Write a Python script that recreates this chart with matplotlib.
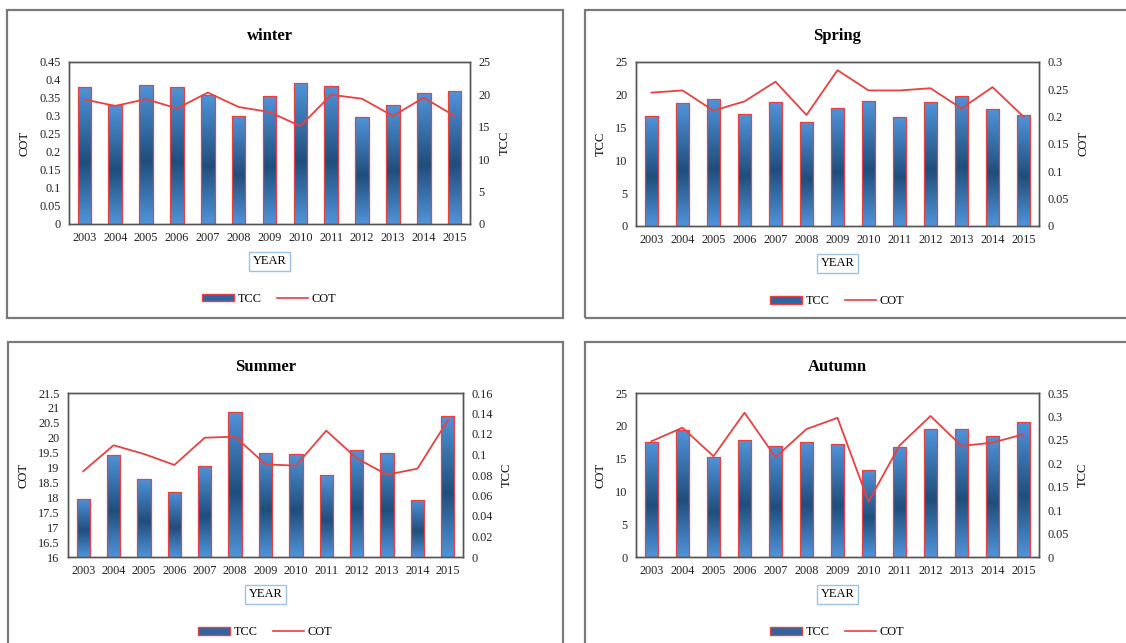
import numpy as np
import matplotlib
matplotlib.use('Agg')
import matplotlib.pyplot as plt
from matplotlib.colors import LinearSegmentedColormap
from matplotlib.patches import Rectangle, Patch
from matplotlib.lines import Line2D
from matplotlib.ticker import FuncFormatter, MultipleLocator

plt.rcParams['font.family'] = ['Liberation Serif', 'DejaVu Serif']

years = ['2003', '2004', '2005', '2006', '2007', '2008', '2009',
         '2010', '2011', '2012', '2013', '2014', '2015']

# winter: bars TCC (right axis), line COT (left axis)
winter_tcc = [21.15, 18.35, 21.5, 21.15, 19.9, 16.7, 19.7, 21.7, 21.35, 16.5, 18.3, 20.2, 20.5]
winter_cot = [0.346, 0.328, 0.347, 0.321, 0.365, 0.325, 0.311, 0.272, 0.359, 0.348, 0.300, 0.351, 0.300]

# spring: bars TCC (left axis), line COT (right axis)
spring_tcc = [16.75, 18.7, 19.35, 17.05, 18.85, 15.9, 18.0, 19.05, 16.55, 18.85, 19.85, 17.9, 16.9]
spring_cot = [0.244, 0.248, 0.211, 0.228, 0.264, 0.203, 0.285, 0.248, 0.248, 0.252, 0.215, 0.254, 0.200]

# summer: bars (left axis, labelled COT), line (right axis, labelled TCC)
summer_bar = [17.96, 19.43, 18.63, 18.19, 19.06, 20.85, 19.5, 19.47, 18.74, 19.6, 19.5, 17.92, 20.73]
summer_line = [0.0836, 0.109, 0.1005, 0.0898, 0.1164, 0.1174, 0.0904, 0.0891, 0.1233, 0.0963, 0.0803, 0.0862, 0.1333]

# autumn: bars (left axis, labelled COT), line (right axis, labelled TCC)
autumn_bar = [17.47, 19.31, 15.2, 17.83, 16.85, 17.47, 17.2, 13.3, 16.7, 19.47, 19.47, 18.4, 20.65]
autumn_line = [0.247, 0.276, 0.215, 0.308, 0.213, 0.273, 0.297, 0.118, 0.238, 0.301, 0.237, 0.244, 0.262]

red = '#e8413f'
light = '#4f94da'
dark = '#204e7c'
cmap = LinearSegmentedColormap.from_list('bar', [(0, light), (0.45, dark), (1, light)])
fmt = FuncFormatter(lambda v, p: f'{v:.10g}')

fig = plt.figure(figsize=(11.26, 6.43), dpi=100)

W, H = 1126, 643


def fbox(x0, y0, x1, y1):
    fig.patches.append(Rectangle((x0 / W, 1 - y1 / H), (x1 - x0) / W, (y1 - y0) / H,
                                 transform=fig.transFigure, fill=False,
                                 ec='#7a7a7a', lw=1.6))


fbox(7, 10, 563, 318)
fbox(585, 10, 1135, 318)
fbox(8, 342, 563, 655)
fbox(585, 342, 1135, 655)


def panel(rect, title, bars_v, line_v, bar_lim, bar_step, line_lim, line_step,
          left_label, right_label, bars_left):
    x0, y0, x1, y1 = rect
    ax = fig.add_axes([x0 / W, 1 - y1 / H, (x1 - x0) / W, (y1 - y0) / H])
    ax2 = ax.twinx()
    x = np.arange(len(years))
    bars = ax.bar(x, bars_v, width=0.44, color='none', edgecolor=red, lw=0.9, zorder=3)
    grad = np.linspace(0, 1, 256).reshape(-1, 1)
    for b in bars:
        bot = max(b.get_y(), bar_lim[0])
        top = b.get_y() + b.get_height()
        im = ax.imshow(grad, extent=[b.get_x(), b.get_x() + b.get_width(), bot, top],
                       origin='lower', aspect='auto', cmap=cmap, zorder=2)
        im.set_clip_path(b)
    ax2.plot(x, line_v, color=red, lw=1.3, zorder=4)
    ax.set_xlim(-0.5, len(years) - 0.5)
    ax.set_ylim(*bar_lim)
    ax2.set_ylim(*line_lim)
    ax.yaxis.set_major_locator(MultipleLocator(bar_step))
    ax2.yaxis.set_major_locator(MultipleLocator(line_step))
    ax.yaxis.set_major_formatter(fmt)
    ax2.yaxis.set_major_formatter(fmt)
    ax.set_xticks(x)
    ax.set_xticklabels(years)
    if bars_left:
        ax.set_ylabel(left_label, fontsize=9, labelpad=6)
        ax2.set_ylabel(right_label, fontsize=9, labelpad=6)
    else:
        ax.yaxis.tick_right()
        ax.yaxis.set_label_position('right')
        ax2.yaxis.tick_left()
        ax2.yaxis.set_label_position('left')
        ax2.set_ylabel(left_label, fontsize=9, labelpad=6)
        ax.set_ylabel(right_label, fontsize=9, labelpad=6)
    for a in (ax, ax2):
        a.tick_params(length=0, labelsize=8.8, pad=6, colors='#222222')
        for s in a.spines.values():
            s.set_color('#555555')
            s.set_linewidth(1.0)
    ax.set_xlabel('YEAR', fontsize=9, labelpad=8,
                  bbox=dict(fc='white', ec='#9cc3e6', lw=1.0, pad=2.5))
    ax.set_title(title, fontsize=12, fontweight='bold', pad=16)
    handles = [Patch(facecolor='#2f65a0', edgecolor=red, lw=1.0),
               Line2D([], [], color=red, lw=1.2)]
    ax.legend(handles, ['TCC', 'COT'], loc='center', bbox_to_anchor=(0.5, -0.46),
              ncol=2, frameon=False, fontsize=8.8, handlelength=2.6, handleheight=0.55,
              columnspacing=1.2, handletextpad=0.3)
    return ax


panel((69, 62, 470, 224), 'winter', winter_tcc, winter_cot, (0, 25), 5, (0, 0.45), 0.05,
      'COT', 'TCC', bars_left=False)
panel((636, 62, 1039, 226), 'Spring', spring_tcc, spring_cot, (0, 25), 5, (0, 0.3), 0.05,
      'TCC', 'COT', bars_left=True)
panel((68, 393, 463, 557), 'Summer', summer_bar, summer_line, (16, 21.5), 0.5, (0, 0.16), 0.02,
      'COT', 'TCC', bars_left=True)
panel((636, 393, 1039, 557), 'Autumn', autumn_bar, autumn_line, (0, 25), 5, (0, 0.35), 0.05,
      'COT', 'TCC', bars_left=True)

fig.savefig('out.png', dpi=100)
